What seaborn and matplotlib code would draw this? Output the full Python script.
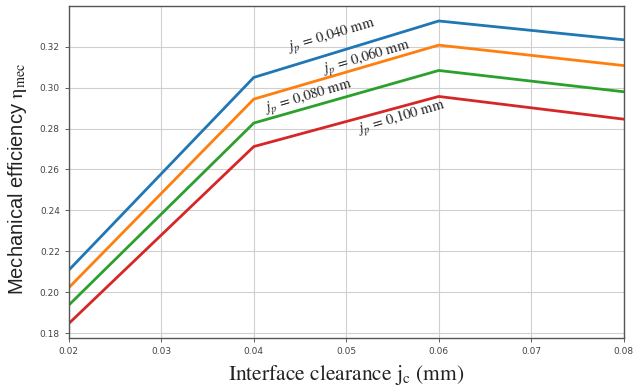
import numpy as np
import pandas as pd
import matplotlib
matplotlib.use("Agg")
import matplotlib.pyplot as plt
import seaborn as sns

#%% data
clearance = [0.02, 0.04, 0.06, 0.08]
eff_040 = [0.2108, 0.3050, 0.3326, 0.3234]
eff_060 = [0.2022, 0.2944, 0.3208, 0.3108]
eff_080 = [0.1937, 0.2827, 0.3084, 0.2980]
eff_100 = [0.1847, 0.2712, 0.2957, 0.2846]
series_names = ["0,040", "0,060", "0,080", "0,100"]

df = pd.DataFrame({
    "jc": clearance * 4,
    "eff": eff_040 + eff_060 + eff_080 + eff_100,
    "jp": [n for n in series_names for _ in clearance],
})

#%% style
sns.set_style("whitegrid")
plt.rcParams["mathtext.fontset"] = "stix"
colors = ["#1f77b4", "#ff7f0e", "#2ca02c", "#d62728"]

fig = plt.figure(figsize=(6.43, 3.89), dpi=100)
ax = fig.add_axes([0.107, 0.131, 0.863, 0.854])

sns.lineplot(data=df, x="jc", y="eff", hue="jp", palette=colors,
             linewidth=2, legend=False, ax=ax)

ax.set_xlim(0.02, 0.08)
ax.set_ylim(0.1776, 0.340)
ax.set_xticks(np.arange(0.02, 0.0801, 0.01))
ax.set_yticks(np.arange(0.18, 0.3201, 0.02))
ax.xaxis.set_major_formatter(matplotlib.ticker.FormatStrFormatter("%.2f"))
ax.yaxis.set_major_formatter(matplotlib.ticker.FormatStrFormatter("%.2f"))
ax.tick_params(labelsize=6.5, colors="#444444", length=3, width=0.6,
               bottom=True, left=True)
ax.grid(color="#d0d0d0", linewidth=0.8)
for sp in ax.spines.values():
    sp.set_color("#555555")
    sp.set_linewidth(1.0)

ax.set_xlabel(r"Interface clearance $\mathrm{j_c}$ (mm)",
              fontsize=15.5, family="STIXGeneral", color="#222222", labelpad=5)
ax.set_ylabel(r"Mechanical efficiency $\mathrm{\eta_{mec}}$",
              fontsize=14.5, family="Liberation Sans", color="#222222")
ax.yaxis.set_label_coords(-0.072, 0.48)

# inline labels along the lines
label_pos = [(0.0484, 0.3249), (0.0522, 0.3146), (0.0460, 0.2950), (0.0560, 0.2853)]
for name, (x, y) in zip(series_names, label_pos):
    ax.text(x, y, r"$j_p$ = " + name + " mm", family="STIXGeneral",
            rotation=16.5, ha="center", va="center", fontsize=10.5,
            color="#222222", rotation_mode="anchor")

fig.savefig("out.png", dpi=100)
